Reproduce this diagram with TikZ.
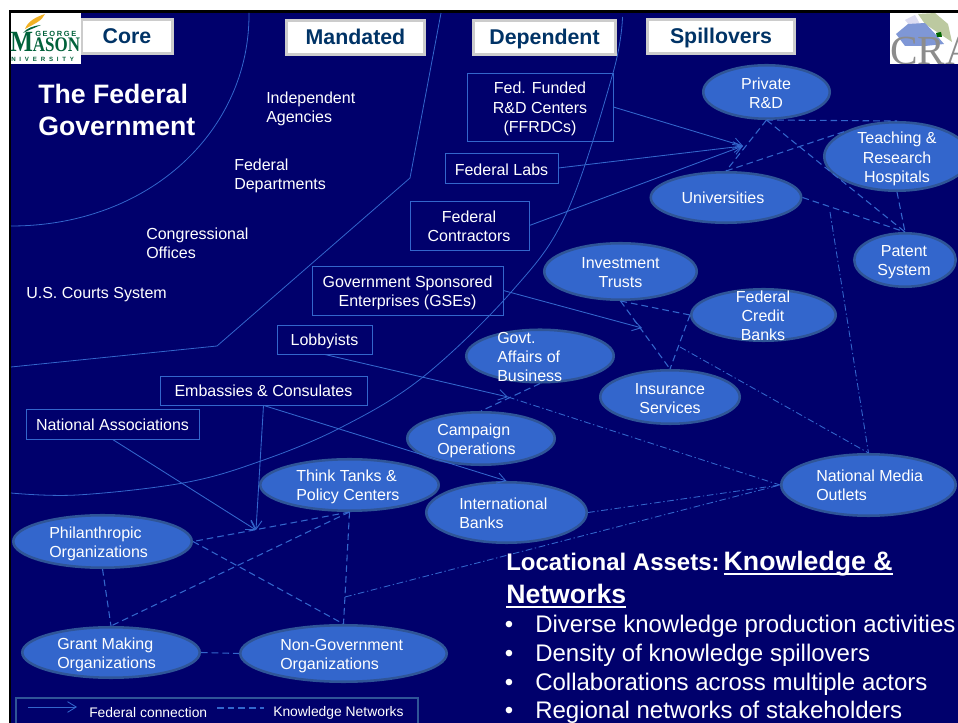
\documentclass[tikz,border=0pt]{standalone}
\usepackage{fontspec}
\setmainfont{Liberation Sans}
\newfontfamily\logoserif[FakeStretch=0.82]{Liberation Serif}
\newfontfamily\craserif{Liberation Serif}
\usetikzlibrary{arrows.meta,shapes.geometric}
\definecolor{navy}{HTML}{00006C}
\definecolor{linec}{HTML}{3366CC}
\definecolor{ovalf}{HTML}{3366CC}
\definecolor{ovald}{HTML}{2F5597}
\definecolor{tabtext}{HTML}{003366}
\definecolor{masong}{HTML}{00613A}
\definecolor{masony}{HTML}{F2B124}
\definecolor{mapblue}{HTML}{7F97D6}
\definecolor{mapgreen}{HTML}{BCC9A0}
\definecolor{maplav}{HTML}{DCDCF2}
\newcommand{\ulbox}[1]{\setbox0\hbox{#1}\rlap{\raisebox{-3.2pt}{\rule{\wd0}{1.6pt}}}\box0}
\tikzset{
  x=0.75pt,y=-0.75pt,
  txt/.style={text=white,inner sep=0pt,font=\fontsize{12}{14.4}\selectfont},
  lab/.style={txt,align=left,anchor=west},
  clab/.style={txt,align=center},
  oval/.style 2 args={ellipse,draw=ovald,line width=1.9pt,fill=ovalf,inner sep=0pt,minimum width=(#1-2.5)*0.75pt,minimum height=(#2-2.5)*0.75pt},
  bx/.style 2 args={rectangle,draw=linec,line width=0.6pt,inner sep=0pt,minimum width=#1*0.75pt,minimum height=#2*0.75pt},
  tabbox/.style 2 args={rectangle,fill=white,draw=black!20,line width=2pt,inner sep=0pt,text=tabtext,font=\fontsize{16}{19}\bfseries\selectfont,text height=11.5pt,text depth=0.3pt,minimum width=(#1-2.5)*0.75pt,minimum height=(#2-2.5)*0.75pt},
  zone/.style={draw=linec,line width=0.6pt},
  fed/.style={draw=linec,line width=0.65pt,-{Straight Barb[length=6.5pt,width=8pt]}},
  know/.style={draw=linec,line width=0.8pt,dash pattern=on 5pt off 3pt},
  media/.style={draw=linec,line width=0.65pt,dash pattern=on 5pt off 2pt on 1pt off 2pt},
  bullet/.style={anchor=base west,inner sep=0pt,text=white,font=\fontsize{18}{18}\selectfont},
}
\begin{document}
\begin{tikzpicture}
\useasboundingbox (0,0) rectangle (958,723);
\fill[white] (0,0) rectangle (958,723);
\fill[navy] (9,10) rectangle (958,723);
\fill[black] (9,10) rectangle (958,13);
\fill[black] (9,10) rectangle (11,723);
% zones
\draw[zone] (249,13) .. controls (250,130) and (150,226) .. (11,226);
\draw[zone] (441,13) -- (410,178) -- (217,346) -- (11,367);
\draw[zone] plot[smooth,tension=0.6] coordinates {(622.5,17) (613,73) (567,212) (513,290) (423,377) (340,428) (258,462) (183,483) (77,495) (11,493)};
% column headers
\node[tabbox={94}{37}] (tabcore) at (127,36.5) {Core};
\node[tabbox={141}{37}] (tabmand) at (355.5,37.5) {Mandated};
\node[tabbox={145}{37}] (tabdep) at (544.5,37.5) {Dependent};
\node[tabbox={150}{37}] (tabspill) at (721,36.5) {Spillovers};
% logos
\fill[white] (11,13) rectangle (81,64);
\fill[masony] (25,29) .. controls (28,21) and (36,17) .. (45,14) .. controls (42,21) and (34,24) .. (25,29) -- cycle;
\fill[masong] (23,33) .. controls (27,28) and (33,26) .. (41,25) .. controls (34,28) and (29,30) .. (23,33) -- cycle;
\node[anchor=base west,inner sep=0pt,text=masong,font=\logoserif\fontsize{22}{22}\bfseries\selectfont] (masonlogo) at (10,52) {M\fontsize{15.5}{15.5}\selectfont ASON};
\node[anchor=base west,inner sep=0pt,text=masong,font=\fontsize{5.6}{6}\bfseries\selectfont] (georgelogo) at (35,37) {\addfontfeature{LetterSpace=22}GEORGE};
\node[anchor=base west,inner sep=0pt,text=masong,font=\fontsize{4.6}{5}\bfseries\selectfont] (univlogo) at (11,61.5) {\addfontfeature{LetterSpace=62}NIVERSITY};
\begin{scope}
\clip (890,13) rectangle (958,64);
\fill[white] (890,13) rectangle (958,64);
\fill[mapgreen] (918,14) -- (935,13) -- (948,24) -- (952,42) -- (940,34) -- (925,24) -- cycle;
\fill[maplav] (905,20) -- (915,15) -- (920,24) -- (910,26) -- cycle;
\fill[mapblue] (896,34) -- (908,24) -- (925,23) -- (938,37) -- (944,44) -- (925,46) -- (905,46) -- cycle;
\fill[green!40!black] (936,33) -- (941,32) -- (942,37) -- (937,37) -- cycle;
\node[anchor=base west,inner sep=0pt,text=black!45,font=\craserif\fontsize{31}{31}\selectfont] (cralogo) at (890,64.5) {CRA};
\end{scope}
% free text
\node[lab,font=\fontsize{20}{24}\bfseries\selectfont] (title) at (38,110) {The Federal\\Government};
\node[lab] (indep) at (266,109) {Independent\\Agencies};
\node[lab] (depts) at (234,176) {Federal\\Departments};
\node[lab] (congr) at (146,243.5) {Congressional\\Offices};
\node[lab] (courts) at (26,295) {U.S. Courts System};
% boxes
\node[bx={146}{68}] (ffrdc) at (540,107) {};
\node[clab] (ffrdcT) at (540,109) {Fed. Funded\\R\&D Centers\\(FFRDCs)};
\node[bx={113}{30}] (labs) at (501.5,168) {};
\node[clab] (labsT) at (501.5,169.5) {Federal Labs};
\node[bx={119}{49}] (contr) at (469.5,225.5) {};
\node[clab] (contrT) at (469,226.5) {Federal\\Contractors};
\node[bx={191}{49}] (gse) at (407.5,290.5) {};
\node[clab] (gseT) at (407.5,292.5) {Government Sponsored\\Enterprises (GSEs)};
\node[bx={95}{29}] (lobby) at (324.5,339.5) {};
\node[clab] (lobbyT) at (324.5,341.5) {Lobbyists};
\node[bx={207}{29}] (emb) at (263.5,390.5) {};
\node[clab] (embT) at (263.5,391) {Embassies \& Consulates};
\node[bx={173}{30}] (assoc) at (112.5,424) {};
\node[clab] (assocT) at (112.5,425) {National Associations};
% ovals
\node[oval={129}{56}] (private) at (766.5,92) {};
\node[oval={148}{71}] (teach) at (897,156.5) {};
\node[oval={153}{53}] (univ) at (726,197.5) {};
\node[oval={104}{56}] (patent) at (905,260) {};
\node[oval={155}{59}] (invest) at (620.5,271.5) {};
\node[oval={147}{54}] (credit) at (763.5,315) {};
\node[oval={142}{56}] (insur) at (670,397) {};
\node[oval={150}{55}] (govt) at (540,356) {};
\node[oval={150}{55}] (camp) at (481,438.5) {};
\node[oval={163}{63}] (intl) at (506.5,512.5) {};
\node[oval={181}{54}] (think) at (349.5,485) {};
\node[oval={181}{55}] (phil) at (102.5,541.5) {};
\node[oval={180}{53}] (grant) at (111,652.5) {};
\node[oval={209}{59}] (nongov) at (343.5,653.5) {};
\node[oval={177}{64}] (natmedia) at (868.5,485) {};
% oval labels
\node[clab] (privateT) at (766,93) {Private\\R\&D};
\node[clab] (teachT) at (897,159) {Teaching \&\\Research\\Hospitals};
\node[clab] (univT) at (723,197.5) {Universities};
\node[clab] (patentT) at (904,262) {Patent\\System};
\node[clab] (investT) at (620.5,272.5) {Investment\\Trusts};
\node[clab] (creditT) at (763,316) {Federal\\Credit\\Banks};
\node[clab] (insurT) at (670,398.5) {Insurance\\Services};
\node[lab] (govtT) at (497,357) {Govt.\\Affairs of\\Business};
\node[lab] (campT) at (437,440.5) {Campaign\\Operations};
\node[lab] (intlT) at (459,513) {International\\Banks};
\node[lab] (thinkT) at (296,487) {Think Tanks \&\\Policy Centers};
\node[lab] (philT) at (49,544) {Philanthropic\\Organizations};
\node[lab] (grantT) at (57,655) {Grant Making\\Organizations};
\node[lab] (nongovT) at (280,656) {Non-Government\\Organizations};
\node[lab] (mediaT) at (816,485) {National Media\\Outlets};
% hubs
\coordinate (hubA) at (743,146);
\coordinate (hubB) at (642,328);
\coordinate (hubC) at (508,397);
\coordinate (hubE) at (256,530);
\coordinate (m1) at (830,212);
\coordinate (m2) at (680,347);
\coordinate (m3) at (345,597);
% federal connections
\draw[fed] (ffrdc.east) -- (hubA);
\draw[fed] (labs.east) -- (hubA);
\draw[fed] (contr.east) -- (hubA);
\draw[fed] (gse.east) -- (hubB);
\draw[fed] (lobby.south) -- (hubC);
\draw[fed] (emb.south) -- (hubE);
\draw[fed] (emb.south) -- (intl.north);
\draw[fed] (assoc.south) -- (hubE);
% knowledge networks
\draw[know] (private.south) -- (teach.north);
\draw[know] (private.south) -- (univ.north);
\draw[know] (private.south) -- (patent.north);
\draw[know] (teach.155) -- (univ.north);
\draw[know] (univ.east) -- (patent.north);
\draw[know] (teach.south) -- (patent.north);
\draw[know] (invest.south) -- (credit.west);
\draw[know] (invest.south) -- (insur.north);
\draw[know] (credit.west) -- (insur.north);
\draw[know] (govt.south) -- (camp.north);
\draw[know] (think.south) -- (phil.east);
\draw[know] (think.south) -- (grant.north);
\draw[know] (think.south) -- (nongov.north);
\draw[know] (phil.east) -- (nongov.north);
\draw[know] (phil.south) -- (grant.north);
\draw[know] (grant.east) -- (nongov.west);
% media links
\draw[media] (m1) -- (natmedia.north);
\draw[media] (m2) -- (natmedia.north);
\draw[media] (hubC) -- (natmedia.west);
\draw[media] (intl.east) -- (natmedia.west);
\draw[media] (m3) -- (natmedia.west);
% legend
\draw[draw=ovald,line width=2pt] (16,724) -- (16,698) -- (418,698) -- (418,724);
\coordinate (legA) at (28,707);
\coordinate (legB) at (77,707);
\coordinate (legC) at (217,708);
\coordinate (legD) at (264,708);
\draw[fed] (legA) -- (legB);
\draw[know] (legC) -- (legD);
\node[lab,font=\fontsize{10.4}{12}\selectfont] (legfed) at (89,713) {Federal connection};
\node[lab,font=\fontsize{10.4}{12}\selectfont] (legknow) at (273,713) {Knowledge Networks};
% locational assets
\node[anchor=base west,inner sep=0pt,text=white,font=\fontsize{18}{18}\bfseries\selectfont] (assets) at (506,571) {Locational Assets:\hspace{-3.6pt} \fontsize{20}{20}\selectfont\ulbox{Knowledge \&}};
\node[anchor=base west,inner sep=0pt,text=white,font=\fontsize{20}{20}\bfseries\selectfont] (assets2) at (506,604) {\ulbox{Networks}};
\node[bullet] (b1d) at (504.5,633) {•};
\node[bullet] (b2d) at (504.5,662) {•};
\node[bullet] (b3d) at (504.5,691) {•};
\node[bullet] (b4d) at (504.5,719) {•};
\node[bullet] (b1) at (535,633) {Diverse knowledge production activities};
\node[bullet] (b2) at (535,662) {Density of knowledge spillovers};
\node[bullet] (b3) at (535,691) {Collaborations across multiple actors};
\node[bullet] (b4) at (535,719) {Regional networks of stakeholders};
\end{tikzpicture}
\end{document}
